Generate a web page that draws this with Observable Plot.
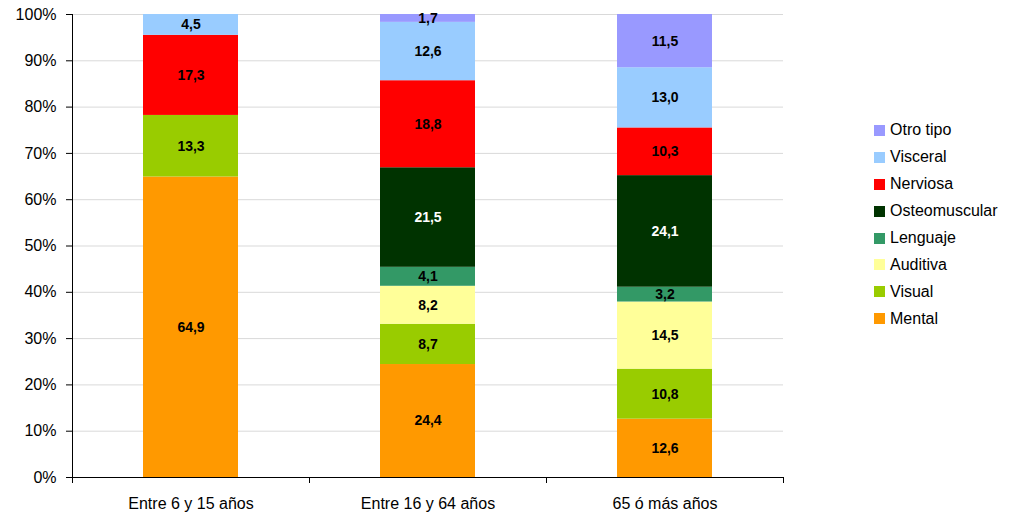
<!DOCTYPE html>
<html>
<head>
<meta charset="utf-8">
<script src="https://cdn.jsdelivr.net/npm/d3@7"></script>
<script src="https://cdn.jsdelivr.net/npm/@observablehq/plot@0.6"></script>
<style>
  body { margin: 0; background: #fff; font-family: "Liberation Sans", Arial, sans-serif; }
  #wrap { position: relative; width: 1024px; height: 518px; }
  #legend { position: absolute; left: 874px; top: 117px; font-size: 16px; color: #000; }
  #legend .row { display: flex; align-items: center; height: 26.9px; }
  #legend .sw { width: 11px; height: 11px; margin-right: 5px; }
</style>
</head>
<body>
<div id="wrap"><div id="chart"></div><div id="legend"></div></div>
<script>
const categories = ["Entre 6 y 15 años", "Entre 16 y 64 años", "65 ó más años"];
const types = ["Mental", "Visual", "Auditiva", "Lenguaje", "Osteomuscular", "Nerviosa", "Visceral", "Otro tipo"];
const colors = ["#FF9900", "#99CC00", "#FFFF99", "#339966", "#003300", "#FF0000", "#99CCFF", "#9999FF"];
const labelColors = ["#000", "#000", "#000", "#000", "#fff", "#000", "#000", "#000"];
const mental = [64.9, 24.4, 12.6];
const visual = [13.3, 8.7, 10.8];
const auditiva = [0, 8.2, 14.5];
const lenguaje = [0, 4.1, 3.2];
const osteomuscular = [0, 21.5, 24.1];
const nerviosa = [17.3, 18.8, 10.3];
const visceral = [4.5, 12.6, 13.0];
const otro = [0, 1.7, 11.5];
const yTicks = [0, 10, 20, 30, 40, 50, 60, 70, 80, 90, 100];

const series = [mental, visual, auditiva, lenguaje, osteomuscular, nerviosa, visceral, otro];
const data = [];
types.forEach((t, i) => categories.forEach((c, j) => {
  if (series[i][j] > 0) data.push({cat: c, type: t, value: series[i][j], lc: labelColors[i]});
}));

const fmt = v => v.toFixed(1).replace(".", ",");
const W = 1024, H = 518, mL = 72, mR = 241;
const step = (W - mL - mR) / categories.length;

const chart = Plot.plot({
  width: W, height: H,
  marginLeft: mL, marginRight: mR, marginTop: 14, marginBottom: 41,
  style: {fontFamily: '"Liberation Sans", Arial, sans-serif', fontSize: "16px", color: "#000", background: "#fff"},
  x: {domain: categories, paddingInner: 0.6, paddingOuter: 0.3, label: null},
  y: {domain: [0, 100], label: null},
  color: {domain: types, range: colors},
  marks: [
    Plot.ruleY(yTicks.filter(d => d > 0), {stroke: "#d9d9d9", strokeWidth: 1}),
    Plot.barY(data, Plot.stackY({x: "cat", y: "value", z: "type", fill: "type", order: types})),
    Plot.text(data, Plot.stackY({x: "cat", y: "value", z: "type", order: types, text: d => fmt(d.value), fontWeight: "bold", fontSize: 14, fill: "lc"})),
    Plot.axisY({ticks: yTicks, tickFormat: d => d + "%", tickSize: 6, tickPadding: 10, fontSize: 16, label: null, stroke: "#000"}),
    Plot.axisX({tickSize: 0, tickPadding: 20, fontSize: 16, label: null}),
    Plot.ruleY([0], {stroke: "#000"}),
    Plot.ruleX(categories, {x: d => d, dx: -step / 2, y1: 0, y2: 0, insetBottom: -6, stroke: "#000"}),
    Plot.ruleX(categories.slice(-1), {x: d => d, dx: step / 2, y1: 0, y2: 0, insetBottom: -6, stroke: "#000"}),
    Plot.ruleX(categories.slice(0, 1), {x: d => d, dx: -step / 2, y1: 0, y2: 100, stroke: "#000"})
  ]
});
document.getElementById("chart").appendChild(chart);

const legend = document.getElementById("legend");
types.slice().reverse().forEach(t => {
  const row = document.createElement("div");
  row.className = "row";
  const sw = document.createElement("div");
  sw.className = "sw";
  sw.style.background = colors[types.indexOf(t)];
  const lab = document.createElement("span");
  lab.textContent = t;
  row.appendChild(sw); row.appendChild(lab);
  legend.appendChild(row);
});
</script>
</body>
</html>
